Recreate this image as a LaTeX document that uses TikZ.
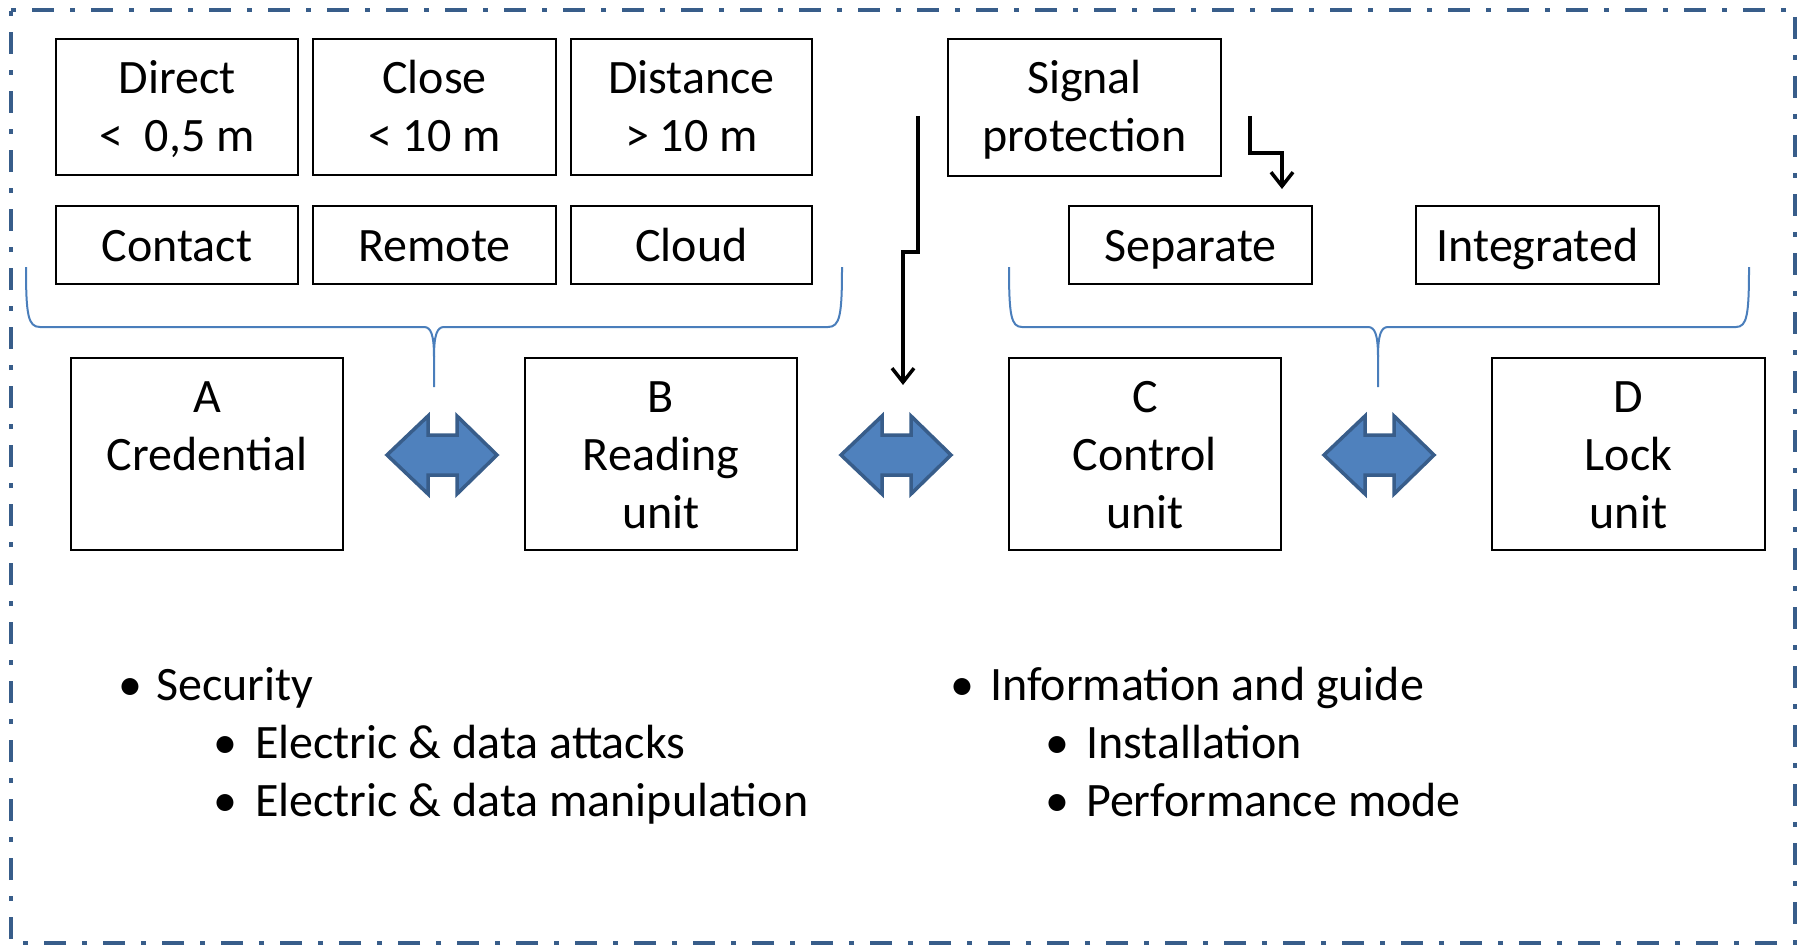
\documentclass[tikz,border=0pt]{standalone}
\usepackage{fontspec}
\setmainfont{Carlito}
\usetikzlibrary{arrows.meta}
\definecolor{framecol}{HTML}{385D8A}
\definecolor{bracecol}{HTML}{4A7EBB}
\definecolor{arrowfill}{HTML}{4F81BD}
\definecolor{arrowline}{HTML}{385D8A}
\newcommand{\mlines}[1]{\begin{tabular}[t]{@{}c@{}}#1\end{tabular}}
\begin{document}
\begin{tikzpicture}[x=1pt,y=-1pt,
  box/.style={draw=black, line width=2.5pt, inner sep=0pt},
  txt/.style={inner sep=0pt, anchor=base, font=\fontsize{48pt}{58pt}\selectfont},
  ltxt/.style={inner sep=0pt, anchor=base west, font=\fontsize{48pt}{58pt}\selectfont},
  bracestyle/.style={draw=bracecol, line width=2pt},
  dblarrow/.style={fill=arrowfill, draw=arrowline, line width=3.5pt, line join=miter},
  sigarrow/.style={draw=black, line width=3.5pt, -{Straight Barb[length=14pt,width=22pt]}},
  framestyle/.style={draw=framecol, line width=4pt, dash pattern=on 5pt off 16pt on 22pt off 16pt}
]
\useasboundingbox (0,0) rectangle (1804,947);
% frame
\draw[framestyle] (11,10) -- (1795,10) -- (1795,943) -- (11,943) -- cycle;

% top boxes
\node[box, minimum width=242, minimum height=136] (direct) at (177,107) {};
\node[box, minimum width=243, minimum height=136] (close) at (434.5,107) {};
\node[box, minimum width=241, minimum height=136] (distance) at (691.5,107) {};
\node[box, minimum width=273, minimum height=137] (signal) at (1084.5,107.5) {};
\node[txt] (directtxt) at (177,94) {\mlines{Direct\\<\ \ 0,5 m}};
\node[txt] (closetxt) at (434.5,94) {\mlines{Close\\< 10 m}};
\node[txt] (distancetxt) at (691.5,94) {\mlines{Distance\\> 10 m}};
\node[txt] (signaltxt) at (1084.5,94) {\mlines{Signal\\protection}};

% second row
\node[box, minimum width=242, minimum height=78] (contact) at (177,245) {};
\node[box, minimum width=243, minimum height=78] (remote) at (434.5,245) {};
\node[box, minimum width=241, minimum height=78] (cloud) at (691.5,245) {};
\node[box, minimum width=243, minimum height=78] (separate) at (1190.5,245) {};
\node[box, minimum width=243, minimum height=78] (integrated) at (1537.5,245) {};
\node[txt] (contacttxt) at (177,261) {Contact};
\node[txt] (remotetxt) at (434.5,261) {Remote};
\node[txt] (cloudtxt) at (691.5,261) {Cloud};
\node[txt] (separatetxt) at (1190.5,261) {Separate};
\node[txt] (integratedtxt) at (1537.5,261) {Integrated};

% main units
\node[box, minimum width=272, minimum height=192] (A) at (207,454) {};
\node[box, minimum width=272, minimum height=192] (B) at (661,454) {};
\node[box, minimum width=272, minimum height=192] (C) at (1145,454) {};
\node[box, minimum width=273, minimum height=192] (D) at (1628.5,454) {};
\node[txt] (Atxt) at (207,412) {\mlines{A\\Credential}};
\node[txt] (Btxt) at (661,412) {\mlines{B\\Reading\\unit}};
\node[txt] (Ctxt) at (1145,412) {\mlines{C\\Control\\unit}};
\node[txt] (Dtxt) at (1628.5,412) {\mlines{D\\Lock\\unit}};

% braces
\draw[bracestyle] (26,267) .. controls (26,315) and (28,327) .. (40,327) -- (424,327)
  .. controls (431,327) and (434,335) .. (434,357) -- (434,387);
\draw[bracestyle] (842,267) .. controls (842,315) and (840,327) .. (828,327) -- (444,327)
  .. controls (437,327) and (434,335) .. (434,357);
\draw[bracestyle] (1009,267) .. controls (1009,315) and (1011,327) .. (1022,327) -- (1368,327)
  .. controls (1375,327) and (1378,335) .. (1378,357) -- (1378,387);
\draw[bracestyle] (1749,267) .. controls (1749,315) and (1747,327) .. (1736,327) -- (1388,327)
  .. controls (1381,327) and (1378,335) .. (1378,357);

% double arrows
\foreach \xo in {387,841,1324}{
  \draw[dblarrow] (\xo,455) -- ++(41,-39) -- ++(0,19) -- ++(29,0) -- ++(0,-19) -- ++(40,39)
    -- ++(-40,39) -- ++(0,-19) -- ++(-29,0) -- ++(0,19) -- cycle;
}

% signal arrows
\coordinate (longstart) at (918,116);
\coordinate (longend) at (903,385);
\coordinate (shortstart) at (1250,116);
\coordinate (shortend) at (1282,189);
\draw[sigarrow] (longstart) -- (longstart |- 0,252) -- (longend |- 0,252) -- (longend);
\draw[sigarrow] (shortstart) -- (shortstart |- 0,153) -- (shortend |- 0,153) -- (shortend);

% bullet lists
\node[txt] (b1) at (130,700) {•};
\node[ltxt] (sec) at (156,700) {Security};
\node[txt] (b2) at (225,758) {•};
\node[ltxt] (att) at (255,758) {Electric \& data attacks};
\node[txt] (b3) at (225,816) {•};
\node[ltxt] (man) at (255,816) {Electric \& data manipulation};
\node[txt] (b4) at (962,700) {•};
\node[ltxt] (info) at (990,700) {Information and guide};
\node[txt] (b5) at (1057,758) {•};
\node[ltxt] (inst) at (1086,758) {Installation};
\node[txt] (b6) at (1057,816) {•};
\node[ltxt] (perf) at (1086,816) {Performance mode};
\end{tikzpicture}
\end{document}
